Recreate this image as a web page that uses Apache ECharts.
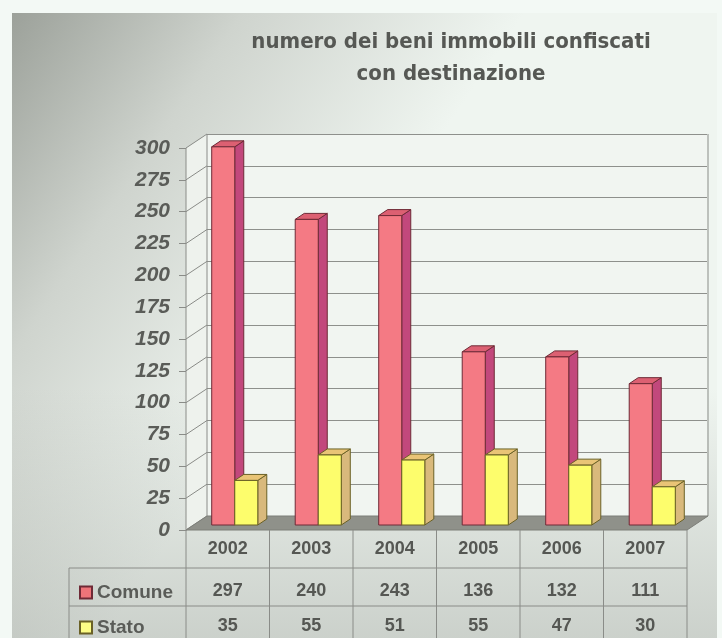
<!DOCTYPE html>
<html>
<head>
<meta charset="utf-8">
<script src="https://cdn.jsdelivr.net/npm/echarts@6/dist/echarts.min.js"></script>
<style>html,body{margin:0;padding:0;background:#f3f9f5;}#c{width:722px;height:638px;}</style>
</head>
<body>
<div id="c"></div>
<script>
const categories = ['2002','2003','2004','2005','2006','2007'];
const comune = [297, 240, 243, 136, 132, 111];
const stato = [35, 55, 51, 55, 47, 30];
const yTicks = [0,25,50,75,100,125,150,175,200,225,250,275,300];
const seriesNames = ['Comune','Stato'];
const titleText = 'numero dei beni immobili confiscati\ncon destinazione';

const DX = 21, DY = -14;       // wall depth
const BX = 7, BY = -5;         // bar plane offset
const BDX = 9, BDY = -6;       // bar depth
const lineCol = '#8a8c88';

const chart = echarts.init(document.getElementById('c'), null, {renderer:'canvas'});

function barItem(colors, left) {
  return function(params, api) {
    const i = api.value(0), v = api.value(1);
    const p = api.coord([i, v]);
    const p0 = api.coord([i, 0]);
    const band = api.size([1, 0])[0];
    const w = band * 0.276;
    const x = p[0] + BX + (left ? -w : 0);
    const yT = p[1] + BY, yB = p0[1] + BY;
    const st = {stroke: colors.stroke, lineWidth: 1, lineJoin: 'round'};
    return {type: 'group', children: [
      {type: 'polygon', shape: {points: [[x+w,yT],[x+w+BDX,yT+BDY],[x+w+BDX,yB+BDY],[x+w,yB]]}, style: Object.assign({fill: colors.side}, st)},
      {type: 'polygon', shape: {points: [[x,yT],[x+BDX,yT+BDY],[x+w+BDX,yT+BDY],[x+w,yT]]}, style: Object.assign({fill: colors.top}, st)},
      {type: 'rect', shape: {x: x, y: yT, width: w, height: yB - yT}, style: Object.assign({fill: colors.front}, st)}
    ]};
  };
}

function frameItem(params, api) {
  const band = api.size([1, 0])[0];
  const n = categories.length;
  const x0 = api.coord([0, 0])[0] - band / 2;
  const x1 = api.coord([n - 1, 0])[0] + band / 2;
  const yB = api.coord([0, 0])[1];
  const yT = api.coord([0, yTicks[yTicks.length - 1]])[1];
  const ch = [];
  ch.push({type:'polygon', shape:{points:[[x0,yT],[x0+DX,yT+DY],[x0+DX,yB+DY],[x0,yB]]}, style:{fill:'#eef2ed'}});
  yTicks.forEach(t => {
    const y = api.coord([0, t])[1];
    ch.push({type:'line', shape:{x1:x0, y1:y, x2:x0+DX, y2:y+DY}, style:{stroke:lineCol, lineWidth:1}});
  });
  ch.push({type:'line', shape:{x1:x0+DX, y1:yT+DY, x2:x0+DX, y2:yB+DY}, style:{stroke:lineCol, lineWidth:1}});
  ch.push({type:'line', shape:{x1:x1+DX, y1:yT+DY, x2:x1+DX, y2:yB+DY}, style:{stroke:lineCol, lineWidth:1}});
  ch.push({type:'polygon', shape:{points:[[x0,yB],[x1,yB],[x1+DX,yB+DY],[x0+DX,yB+DY]]}, style:{fill:'#8f918a', stroke:'#7c7e78', lineWidth:1}});
  const rows = [yB + 38, yB + 76];
  const tableLeft = 69, tableBottom = 640;
  rows.forEach(y => ch.push({type:'line', shape:{x1:tableLeft, y1:y, x2:x1, y2:y}, style:{stroke:lineCol, lineWidth:1}}));
  for (let k = 0; k <= n; k++) {
    const x = x0 + band * k;
    ch.push({type:'line', shape:{x1:x, y1:(k===0? yT : yB), x2:x, y2:tableBottom}, style:{stroke:lineCol, lineWidth:1}});
  }
  ch.push({type:'line', shape:{x1:tableLeft, y1:rows[0], x2:tableLeft, y2:tableBottom}, style:{stroke:lineCol, lineWidth:1}});
  return {type:'group', children: ch};
}

const redCols = {front:'#f47a84', side:'#c2487c', top:'#dc6072', stroke:'#6e2a36'};
const yelCols = {front:'#fdfd6c', side:'#d9b97c', top:'#e9c476', stroke:'#6a6126'};

const labelFont = 'Liberation Sans, Arial, sans-serif';
const legendText = {fontFamily: labelFont, fontWeight: 'bold', fontSize: 19, color: '#5a5c58'};

chart.setOption({
  animation: false,
  graphic: [
    {type:'rect', z:-10, silent:true, shape:{x:12, y:13, width:705, height:625},
     style:{fill: new echarts.graphic.LinearGradient(0, 0, 0.5, 0.38, [
       {offset:0, color:'#9ca19a'}, {offset:0.45, color:'#cfd4ce'}, {offset:1, color:'#eff5f0'}])}},
    {type:'rect', z:-9, silent:true, shape:{x:12, y:13, width:705, height:625},
     style:{fill: new echarts.graphic.LinearGradient(0, 0, 0, 1, [
       {offset:0, color:'rgba(150,155,148,0)'}, {offset:0.6, color:'rgba(150,155,148,0)'}, {offset:1, color:'rgba(150,155,148,0.4)'}])}}
  ],
  title: {
    text: titleText, left: 446, top: 21, textAlign: 'center',
    textStyle: {fontFamily: 'Liberation Sans Narrow, DejaVu Sans Condensed, Arial Narrow, sans-serif', fontWeight: 'bold', fontSize: 22, color: '#565854', lineHeight: 32}
  },
  legend: [
    {data: [seriesNames[0]], left: 74, top: 578, itemWidth: 12, itemHeight: 12, itemGap: 6, icon: 'rect', selectedMode: false, textStyle: legendText},
    {data: [seriesNames[1]], left: 74, top: 613, itemWidth: 12, itemHeight: 12, itemGap: 6, icon: 'rect', selectedMode: false, textStyle: legendText}
  ],
  grid: [
    {left: 186, right: 35, top: 148, bottom: 108},
    {left: 207, right: 15, top: 134, bottom: 122, show: true, backgroundColor: '#f1f5f1', borderWidth: 0}
  ],
  xAxis: [
    {type:'category', gridIndex:0, data: categories, position:'bottom',
     axisLine:{show:false}, axisTick:{show:false},
     axisLabel:{margin:10, fontFamily: labelFont, fontWeight:'bold', fontSize:18, color:'#555753'}},
    {type:'category', gridIndex:0, data: categories, position:'bottom', offset:42,
     axisLine:{show:false}, axisTick:{show:false},
     axisLabel:{margin:10, formatter:(v, i) => String(comune[i]), fontFamily: labelFont, fontWeight:'bold', fontSize:18, color:'#555753'}},
    {type:'category', gridIndex:0, data: categories, position:'bottom', offset:77,
     axisLine:{show:false}, axisTick:{show:false},
     axisLabel:{margin:10, formatter:(v, i) => String(stato[i]), fontFamily: labelFont, fontWeight:'bold', fontSize:18, color:'#555753'}},
    {type:'category', gridIndex:1, data: categories, show:false}
  ],
  yAxis: [
    {type:'value', gridIndex:0, min:0, max:300, interval:25,
     axisLine:{show:true, lineStyle:{color:lineCol}}, axisTick:{show:true, length:7, lineStyle:{color:lineCol}},
     splitLine:{show:false},
     axisLabel:{margin:16, fontFamily: labelFont, fontStyle:'italic', fontWeight:'bold', fontSize:21, color:'#5a5c58'}},
    {type:'value', gridIndex:1, min:0, max:300, interval:25,
     axisLine:{show:false}, axisTick:{show:false}, axisLabel:{show:false},
     splitLine:{show:true, lineStyle:{color:'#8e908c', width:1}}}
  ],
  series: [
    {type:'custom', name:'frame', xAxisIndex:0, yAxisIndex:0, z:1, silent:true, data:[[0,0]], renderItem: frameItem},
    {type:'custom', name:seriesNames[0], xAxisIndex:0, yAxisIndex:0, z:3,
     itemStyle:{color:'#ee7479', borderColor:'#6e2a36', borderWidth:1},
     data: comune.map((v,i) => [i, v]), renderItem: barItem(redCols, true)},
    {type:'custom', name:seriesNames[1], xAxisIndex:0, yAxisIndex:0, z:3,
     itemStyle:{color:'#fdfd86', borderColor:'#6a6126', borderWidth:1},
     data: stato.map((v,i) => [i, v]), renderItem: barItem(yelCols, false)}
  ]
});
</script>
</body>
</html>
